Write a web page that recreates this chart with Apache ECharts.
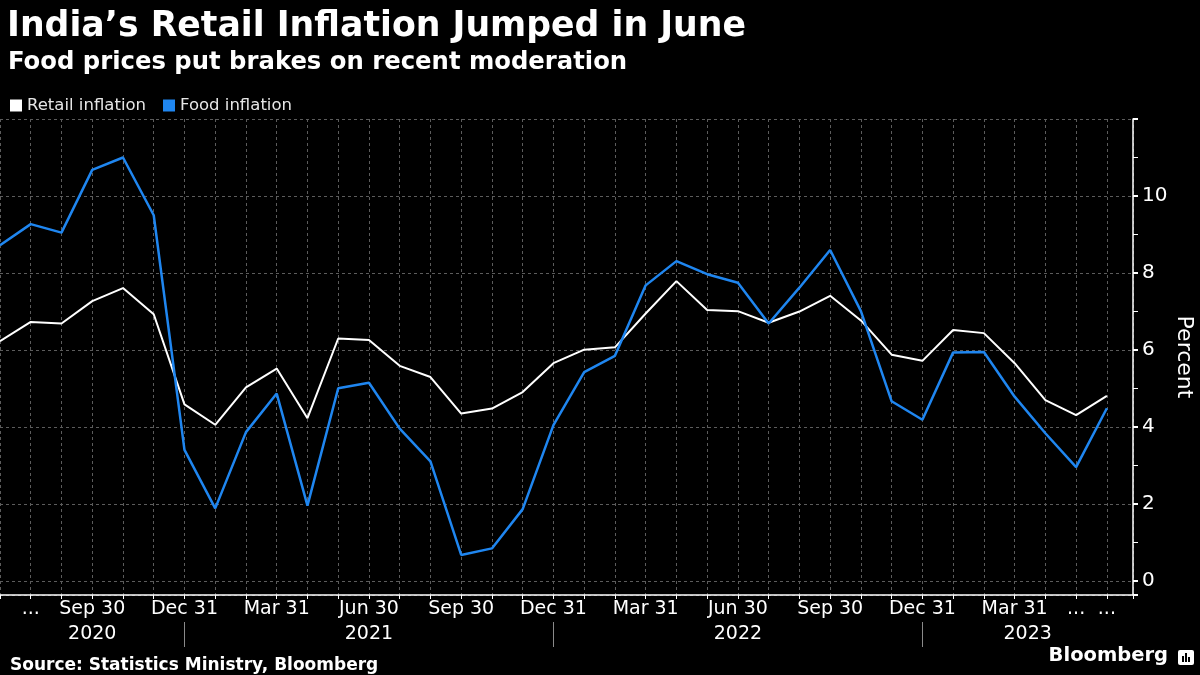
<!DOCTYPE html>
<html>
<head>
<meta charset="utf-8"/>
<title>India retail inflation</title>
<style type="text/css">body,html{width:100%;height:100%;margin:0;background:#000}#chart{width:1200px;height:675px}</style>
<script src="https://cdn.jsdelivr.net/npm/echarts@6/dist/echarts.min.js"></script>
</head>
<body>
<div id="chart"></div>
<script>
	// monthly, Jun 2020 .. Jun 2023
	var retail = [6.23, 6.73, 6.69, 7.27, 7.61, 6.93, 4.59, 4.06, 5.03, 5.52, 4.23, 6.3,
		6.26, 5.59, 5.3, 4.35, 4.48, 4.91, 5.66, 6.01, 6.07, 6.95, 7.79, 7.04,
		7.01, 6.71, 7.0, 7.41, 6.77, 5.88, 5.72, 6.52, 6.44, 5.66, 4.7, 4.31, 4.81];
	var food = [8.72, 9.27, 9.05, 10.68, 11.0, 9.5, 3.41, 1.89, 3.87, 4.87, 1.96, 5.01,
		5.15, 3.96, 3.11, 0.68, 0.85, 1.87, 4.05, 5.43, 5.85, 7.68, 8.31, 7.97,
		7.75, 6.69, 7.62, 8.6, 7.01, 4.67, 4.19, 5.94, 5.95, 4.79, 3.84, 2.96, 4.49];
	// tick labels by month index
	var tickLabels = {1: "...", 3: "Sep 30", 6: "Dec 31", 9: "Mar 31", 12: "Jun 30", 15: "Sep 30",
		18: "Dec 31", 21: "Mar 31", 24: "Jun 30", 27: "Sep 30", 30: "Dec 31", 33: "Mar 31",
		35: "...", 36: "..."};
	var years = ["2020", "2021", "2022", "2023"];
	var yearStart = [0, 6, 18, 30];
	var xMax = 36.85;

	function pairs(arr) {
		var out = [];
		for (var i = 0; i < arr.length; i++) out.push([i, arr[i]]);
		return out;
	}

	var yearCenters = [];
	for (var k = 0; k < years.length; k++) {
		var end = k + 1 < yearStart.length ? yearStart[k + 1] : xMax;
		yearCenters.push((yearStart[k] + end) / 2);
	}

	var font = "DejaVu Sans";
	var grid = "#5c5c5c";
	var chart = echarts.init(document.getElementById("chart"));
	chart.setOption({
		backgroundColor: "#000",
		animation: false,
		title: [
			{text: "India’s Retail Inflation Jumped in June", left: 2, top: 4,
				textStyle: {color: "#fff", fontFamily: font, fontWeight: "bold", fontSize: 34.7}},
			{text: "Food prices put brakes on recent moderation", left: 3, top: 46,
				textStyle: {color: "#fff", fontFamily: font, fontWeight: "bold", fontSize: 24.3}},
			{text: "Source: Statistics Ministry, Bloomberg", left: 5, top: 652,
				textStyle: {color: "#fff", fontFamily: font, fontWeight: "bold", fontSize: 17}}
		],
		legend: {
			left: 5, top: 92, icon: "rect", itemWidth: 12, itemHeight: 12, itemGap: 17,
			textStyle: {color: "#e6e6e6", fontFamily: font, fontSize: 16.5},
			data: ["Retail inflation", "Food inflation"]
		},
		grid: {left: 0, right: 67, top: 119, bottom: 80, outerBoundsMode: "none", containLabel: false},
		xAxis: [{
			type: "value", min: 0, max: xMax, interval: 1,
			axisLine: {onZero: false, lineStyle: {color: "#fff", width: 1.5}},
			axisTick: {length: 4, lineStyle: {color: "#fff"}},
			splitLine: {show: true, lineStyle: {color: grid, type: [3, 3]}},
			axisLabel: {color: "#fff", fontFamily: font, fontSize: 19, margin: 5,
				formatter: function (v) { return tickLabels[v] || ""; }}
		}, {
			type: "value", min: 0, max: xMax, position: "bottom", offset: 27,
			axisLine: {show: false, onZero: false},
			splitLine: {show: false},
			axisTick: {show: true, customValues: yearStart.slice(1), length: 25, lineStyle: {color: "#8a8a8a"}},
			axisLabel: {color: "#fff", fontFamily: font, fontSize: 19, margin: 3, customValues: yearCenters,
				formatter: function (v) {
					for (var j = yearStart.length - 1; j >= 0; j--) if (v >= yearStart[j]) return years[j];
					return "";
				}}
		}],
		yAxis: {
			type: "value", position: "right", min: -0.36, max: 12, minInterval: 2, maxInterval: 2,
			name: "Percent", nameLocation: "middle", nameRotate: -90, nameGap: 40, nameMoveOverlap: false,
			nameTextStyle: {color: "#fff", fontFamily: font, fontSize: 22},
			axisLine: {show: true, onZero: false, lineStyle: {color: "#fff", width: 1.5}},
			axisTick: {show: true, length: 5, lineStyle: {color: "#fff", width: 2}},
			minorTick: {show: true, splitNumber: 2, length: 5, lineStyle: {color: "#fff"}},
			splitLine: {show: true, lineStyle: {color: grid, type: [3, 3]}},
			axisLabel: {color: "#fff", fontFamily: font, fontSize: 20, margin: 9,
				formatter: function (v) { return (v % 2 === 0 && v < 12) ? String(v) : ""; }}
		},
		series: [
			{name: "Retail inflation", type: "line", data: pairs(retail), symbol: "none",
				itemStyle: {color: "#fff"}, lineStyle: {color: "#fff", width: 2}},
			{name: "Food inflation", type: "line", data: pairs(food), symbol: "none",
				itemStyle: {color: "#1f86f0"}, lineStyle: {color: "#1f86f0", width: 2.5}}
		],
		graphic: [
			{type: "text", right: 32, top: 646,
				style: {text: "Bloomberg", fill: "#fff", font: "bold 19.5px " + font}},
			{type: "group", right: 6, top: 650, children: [
				{type: "rect", shape: {x: 0, y: 0, width: 16, height: 15, r: 2}, style: {fill: "#fff"}},
				{type: "rect", shape: {x: 4, y: 6, width: 2, height: 6}, style: {fill: "#000"}},
				{type: "rect", shape: {x: 7, y: 3, width: 2, height: 9}, style: {fill: "#000"}},
				{type: "rect", shape: {x: 10, y: 7, width: 2, height: 5}, style: {fill: "#000"}}
			]}
		]
	});
</script>
</body>
</html>
